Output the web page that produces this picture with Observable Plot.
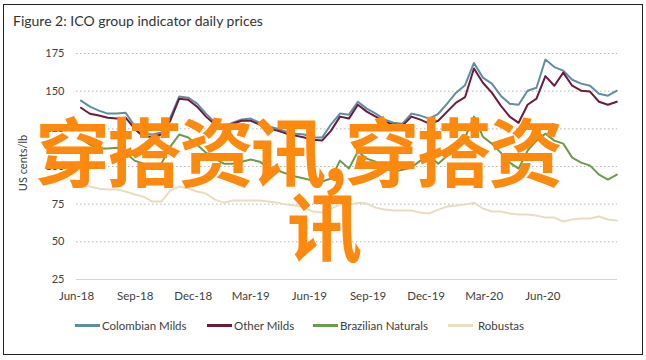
<!DOCTYPE html>
<html>
<head>
<meta charset="utf-8">
<script src="https://cdn.jsdelivr.net/npm/d3@7"></script>
<script src="https://cdn.jsdelivr.net/npm/@observablehq/plot@0.6"></script>
<style>
  html, body { margin: 0; padding: 0; background: #fff; }
  body { width: 646px; height: 360px; position: relative; overflow: hidden; font-family: Lato, "Noto Sans", sans-serif; }
  #frame { position: absolute; left: 3px; top: 4px; width: 640px; height: 351px; border: 1.5px solid #222; box-sizing: border-box; }
  #title { position: absolute; left: 13px; top: 12px; font-size: 14px; color: #333; white-space: nowrap; }
  #chart { position: absolute; left: 0; top: 0; }
  #ylabel { position: absolute; left: 22px; top: 163px; transform: translate(-50%, -50%) rotate(-90deg); font-size: 11px; color: #404040; white-space: nowrap; }
  .leg { position: absolute; top: 319px; font-size: 11.5px; color: #404040; white-space: nowrap; display: flex; align-items: center; }
  .leg span.sw { display: inline-block; width: 25px; height: 2.5px; margin-right: 2px; }
  .wm { position: absolute; font-family: "Noto Sans CJK SC", sans-serif; font-weight: 700; font-size: 75px; letter-spacing: -3px; color: #fd8a0e; line-height: 1; white-space: nowrap; }
</style>
</head>
<body>
<div id="frame"></div>
<div id="title">Figure 2: ICO group indicator daily prices</div>
<div id="chart"></div>
<div id="ylabel">US cents/lb</div>
<div id="legend"></div>
<div class="wm" id="wm1" style="left:35px; top:111px;">穿搭资讯,穿搭资</div>
<div class="wm" id="wm2" style="left:287px; top:186px;">讯</div>
<script>
const dates = [
  "2018-06-08","2018-06-22","2018-07-06","2018-07-20","2018-08-03","2018-08-17","2018-08-31","2018-09-14","2018-09-28","2018-10-12",
  "2018-10-26","2018-11-09","2018-11-23","2018-12-07","2018-12-21","2019-01-04","2019-01-18","2019-02-01","2019-02-15","2019-03-01",
  "2019-03-15","2019-03-29","2019-04-12","2019-04-26","2019-05-10","2019-05-24","2019-06-07","2019-06-21","2019-07-05","2019-07-19",
  "2019-08-02","2019-08-16","2019-08-30","2019-09-13","2019-09-27","2019-10-11","2019-10-25","2019-11-08","2019-11-22","2019-12-06",
  "2019-12-20","2020-01-03","2020-01-17","2020-01-31","2020-02-14","2020-02-28","2020-03-13","2020-03-27","2020-04-10","2020-04-24",
  "2020-05-08","2020-05-22","2020-06-05","2020-06-19","2020-07-03","2020-07-17","2020-07-31","2020-08-14","2020-08-28","2020-09-11",
  "2020-09-25"
];
const colombianMilds = [
  143.7,139.7,137.1,135.1,135.1,135.7,127.0,121.8,121.2,122.5,
  132.4,146.4,145.7,141.7,135.1,129.1,126.5,129.1,131.2,131.8,
  129.1,126.5,125.1,123.1,121.8,121.2,119.2,119.2,128.0,135.1,
  134.4,143.0,138.4,135.1,131.1,129.1,128.4,135.1,133.8,131.8,
  135.0,141.7,149.0,154.0,168.7,159.0,155.0,147.0,141.7,141.0,
  150.3,152.3,171.0,166.0,163.6,157.6,155.0,153.6,148.3,147.0,
  150.3
];
const otherMilds = [
  139.0,135.0,133.8,132.4,131.8,132.4,125.1,119.8,119.8,121.2,
  130.4,145.0,144.3,139.7,133.1,127.8,125.8,128.4,130.4,130.4,
  127.8,125.1,123.8,121.8,120.5,119.2,117.8,117.2,123.8,133.1,
  131.8,141.0,136.4,133.1,129.8,127.8,127.1,133.1,131.1,128.4,
  130.4,136.4,142.4,146.0,165.0,155.6,149.0,140.4,133.1,129.0,
  141.0,145.0,160.0,153.6,162.3,153.6,150.3,149.7,143.0,141.0,
  143.0
];
const brazilianNaturals = [
  118.5,114.5,111.9,111.9,112.5,109.2,103.9,101.9,99.9,101.9,
  113.2,121.2,119.2,114.5,109.2,105.2,101.9,101.9,103.2,104.6,
  103.2,99.3,97.3,95.3,93.3,92.0,90.6,90.0,92.0,103.9,
  98.6,109.9,105.2,103.2,98.6,96.6,97.9,99.3,103.9,107.2,
  101.9,107.2,110.5,119.2,133.1,119.8,115.2,109.2,102.6,98.6,
  110.5,117.2,121.8,117.2,115.2,105.9,102.6,100.6,94.6,91.3,
  94.6
];
const robustas = [
  86.7,86.7,85.3,84.7,84.7,83.4,81.4,80.0,76.7,76.7,
  84.0,86.7,85.3,83.4,82.0,78.0,76.0,77.4,77.4,77.4,
  77.4,76.7,76.0,74.7,74.1,72.7,70.1,69.4,72.1,74.7,
  74.7,76.0,75.4,72.7,71.4,70.8,70.8,70.8,69.4,68.8,
  71.4,73.4,74.1,74.7,76.0,72.1,70.1,70.1,68.8,68.1,
  68.1,67.4,66.1,66.1,63.5,64.8,65.5,65.5,66.8,64.8,
  64.1
];
const seriesNames = ["Colombian Milds", "Other Milds", "Brazilian Naturals", "Robustas"];
const seriesColors = ["#5e8ea3", "#6d1a3c", "#6c9b4a", "#e9ddbf"];
const yTicks = [25, 50, 75, 100, 125, 150, 175];
const xTickDates = ["2018-06-01","2018-09-01","2018-12-01","2019-03-01","2019-06-01","2019-09-01","2019-12-01","2020-03-01","2020-06-01"];

const parse = d3.utcParse("%Y-%m-%d");
const seriesValues = [colombianMilds, otherMilds, brazilianNaturals, robustas];
const rows = [];
seriesValues.forEach((vals, s) => {
  vals.forEach((v, i) => rows.push({date: parse(dates[i]), value: v, series: seriesNames[s]}));
});

const chart = Plot.plot({
  width: 646,
  height: 310,
  marginLeft: 76,
  marginRight: 29,
  marginTop: 53,
  marginBottom: 31,
  style: {fontFamily: "Lato, 'Noto Sans', sans-serif", background: "transparent", color: "#404040"},
  x: {type: "utc", domain: [parse("2018-06-01"), parse("2020-09-26")]},
  y: {domain: [25, 175]},
  color: {domain: seriesNames, range: seriesColors},
  marks: [
    Plot.gridY(yTicks.slice(1), {stroke: "#b5b5b5", strokeOpacity: 1, strokeDasharray: "1.5,2.5", strokeWidth: 1}),
    Plot.ruleY([25], {stroke: "#d4d4d4", strokeWidth: 1}),
    Plot.axisY({ticks: yTicks, tickSize: 0, tickPadding: 12, fontSize: 11, label: null}),
    Plot.axisX({ticks: xTickDates.map(parse), tickSize: 0, tickPadding: 12, fontSize: 11.5, tickFormat: d3.utcFormat("%b-%y"), label: null}),
    Plot.lineY(rows, {x: "date", y: "value", z: "series", stroke: "series", strokeWidth: 2, curve: "linear"})
  ]
});
document.getElementById("chart").appendChild(chart);

const legendLeft = [75, 207, 313, 448];
const legend = document.getElementById("legend");
seriesNames.forEach((name, i) => {
  const item = document.createElement("div");
  item.className = "leg";
  item.style.left = legendLeft[i] + "px";
  item.innerHTML = `<span class="sw" style="background:${seriesColors[i]}"></span>` + (i === 3 ? `<span style="margin-left:3px">${name}</span>` : `<span>${name}</span>`);
  legend.appendChild(item);
});
</script>
</body>
</html>
